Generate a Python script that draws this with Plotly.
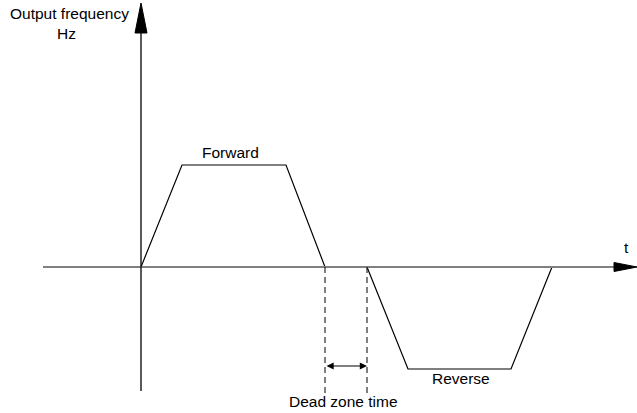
import plotly.graph_objects as go

# Output frequency profile: forward run, then reverse run after the dead zone
fwd_t = [0, 41, 145, 184]
fwd_f = [0, 102, 102, 0]
rev_t = [226, 267, 370, 411]
rev_f = [0, -102, -102, 0]

# Dead zone boundaries (end of forward decel, start of reverse accel)
dead_start = fwd_t[-1]
dead_end = rev_t[0]

# Axis extents
t_axis_min, t_axis_max = -98, 496
f_axis_min, f_axis_max = -124, 264
dash_bottom = -126
dead_arrow_level = -99

# Arrowhead sizes
h_head_len, h_head_half = 23, 4.5
v_head_len, v_head_half = 30, 6

fig = go.Figure()

# Forward and reverse profiles
for xs, ys in ((fwd_t, fwd_f), (rev_t, rev_f)):
    fig.add_trace(go.Scatter(x=xs, y=ys, mode="lines",
                             line=dict(color="black", width=1.2), hoverinfo="skip"))

# Horizontal time axis (gray)
fig.add_trace(go.Scatter(x=[t_axis_min, t_axis_max - h_head_len], y=[0, 0], mode="lines",
                         line=dict(color="#808080", width=2), hoverinfo="skip"))
# Vertical frequency axis
fig.add_trace(go.Scatter(x=[0, 0], y=[f_axis_min, f_axis_max - v_head_len], mode="lines",
                         line=dict(color="black", width=1.3), hoverinfo="skip"))

# Arrowheads
fig.add_trace(go.Scatter(
    x=[t_axis_max - h_head_len, t_axis_max, t_axis_max - h_head_len, t_axis_max - h_head_len],
    y=[h_head_half, 0, -h_head_half, h_head_half],
    mode="lines", fill="toself", fillcolor="black", line=dict(color="black", width=1),
    hoverinfo="skip"))
fig.add_trace(go.Scatter(
    x=[-v_head_half, 0, v_head_half, -v_head_half],
    y=[f_axis_max - v_head_len, f_axis_max, f_axis_max - v_head_len, f_axis_max - v_head_len],
    mode="lines", fill="toself", fillcolor="black", line=dict(color="black", width=1),
    hoverinfo="skip"))

# Dead zone dashed markers
for t in (dead_start, dead_end):
    fig.add_trace(go.Scatter(x=[t, t], y=[0, dash_bottom], mode="lines",
                             line=dict(color="black", width=1, dash="6px,4px"), hoverinfo="skip"))

# Double-headed arrow spanning the dead zone
fig.add_annotation(x=dead_end, y=dead_arrow_level, ax=dead_start, ay=dead_arrow_level,
                   xref="x", yref="y", axref="x", ayref="y", text="",
                   showarrow=True, arrowhead=2, startarrowhead=2, arrowside="end+start",
                   arrowsize=1.2, startarrowsize=1.2, arrowwidth=1.2, arrowcolor="black",
                   standoff=0, startstandoff=0)

font = dict(family="Arial, Liberation Sans, sans-serif", size=15.5, color="black")
labels = [
    ("Output frequency", -72, 254),
    ("Hz", -75, 234),
    ("Forward", 89, 115),
    ("Reverse", 320, -111),
    ("Dead zone time", 202, -134),
    ("t", 485, 20),
]
for text, x, y in labels:
    fig.add_annotation(x=x, y=y, xref="x", yref="y", text=text, showarrow=False,
                       font=font, xanchor="center", yanchor="middle")

fig.update_layout(
    width=637, height=413,
    margin=dict(l=0, r=0, t=0, b=0),
    paper_bgcolor="white", plot_bgcolor="white",
    showlegend=False,
    xaxis=dict(range=[-141, 496], visible=False, fixedrange=True),
    yaxis=dict(range=[-146, 267], visible=False, fixedrange=True),
)

fig.write_html("out.html")
